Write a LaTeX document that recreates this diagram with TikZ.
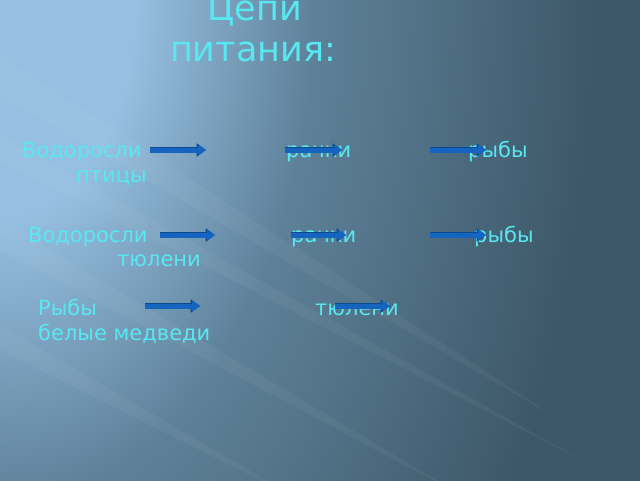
\documentclass[tikz,border=0pt]{standalone}
\usepackage{fontspec}
\setmainfont{DejaVu Sans}
\usetikzlibrary{arrows.meta}
\definecolor{bglight}{HTML}{96BFE1}
\definecolor{bgmid}{HTML}{5E8199}
\definecolor{bgdark}{HTML}{3C5767}
\definecolor{txtcyan}{HTML}{58E8F2}
\definecolor{arrowblue}{HTML}{1565C0}
\definecolor{arrowedge}{HTML}{0C4A8E}
\pgfdeclareradialshading{glow}{\pgfpoint{0bp}{0bp}}{color(0bp)=(bglight); color(4.5bp)=(bglight); color(10.5bp)=(bgmid); color(20bp)=(bgdark); color(50bp)=(bgdark)}

\begin{document}
\begin{tikzpicture}[x=1pt,y=-1pt,
  word/.style={anchor=base west,inner sep=0pt,text=txtcyan,font=\fontsize{21}{25}\selectfont},
  title/.style={anchor=base,inner sep=0pt,text=txtcyan,font=\fontsize{35}{42}\selectfont},
  streak/.style={fill=white,opacity=0.045},
  blockarrow/.style={draw=arrowblue,line width=5pt,-{Triangle[length=8pt,width=11pt]},
    preaction={draw=arrowedge,line width=6.4pt,-{Triangle[length=9.4pt,width=13pt]}}}]
\useasboundingbox (0,0) rectangle (640,480);
% background
\fill[bgdark] (0,0) rectangle (640,480);
\begin{scope}
  \clip (0,0) rectangle (640,480);
  \shade[shading=glow] (0,0) ellipse [x radius=750, y radius=1200];
  \fill[streak] (0,55) -- (0,95) -- (560,420) -- cycle;
  \fill[streak] (0,135) -- (0,160) -- (600,470) -- cycle;
  \fill[streak] (0,220) -- (0,250) -- (470,500) -- cycle;
  \fill[streak] (0,325) -- (0,350) -- (300,500) -- cycle;
\end{scope}

% title
\node[title] (head1) at (255,20) {Цепи};
\node[title] (head2) at (253,61) {питания:};

% chain 1
\node[word] (alg1) at (22,157) {Водоросли};
\node[word] (crus1) at (286,157) {рачки};
\node[word] (fish1) at (468,157) {рыбы};
\node[word] (bird1) at (76,182) {птицы};
\coordinate (a1s) at (150,150); \coordinate (a1e) at (206,150);
\coordinate (a2s) at (285,150); \coordinate (a2e) at (342,150);
\coordinate (a3s) at (430,150); \coordinate (a3e) at (486,150);

% chain 2
\node[word] (alg2) at (28,242) {Водоросли};
\node[word] (crus2) at (291,242) {рачки};
\node[word] (fish2) at (474,242) {рыбы};
\node[word] (seal2) at (117,266) {тюлени};
\coordinate (b1s) at (160,235); \coordinate (b1e) at (215,235);
\coordinate (b2s) at (291,235); \coordinate (b2e) at (346,235);
\coordinate (b3s) at (430,235); \coordinate (b3e) at (486,235);

% chain 3
\node[word] (fish3) at (38,315) {Рыбы};
\node[word] (seal3) at (315,315) {тюлени};
\node[word] (bear3) at (38,340) {белые медведи};
\coordinate (c1s) at (145,306); \coordinate (c1e) at (200,306);
\coordinate (c2s) at (335,306); \coordinate (c2e) at (390,306);

\foreach \s/\e in {a1s/a1e,a2s/a2e,a3s/a3e,b1s/b1e,b2s/b2e,b3s/b3e,c1s/c1e,c2s/c2e}
  \draw[blockarrow] (\s) -- (\e);
\end{tikzpicture}
\end{document}
